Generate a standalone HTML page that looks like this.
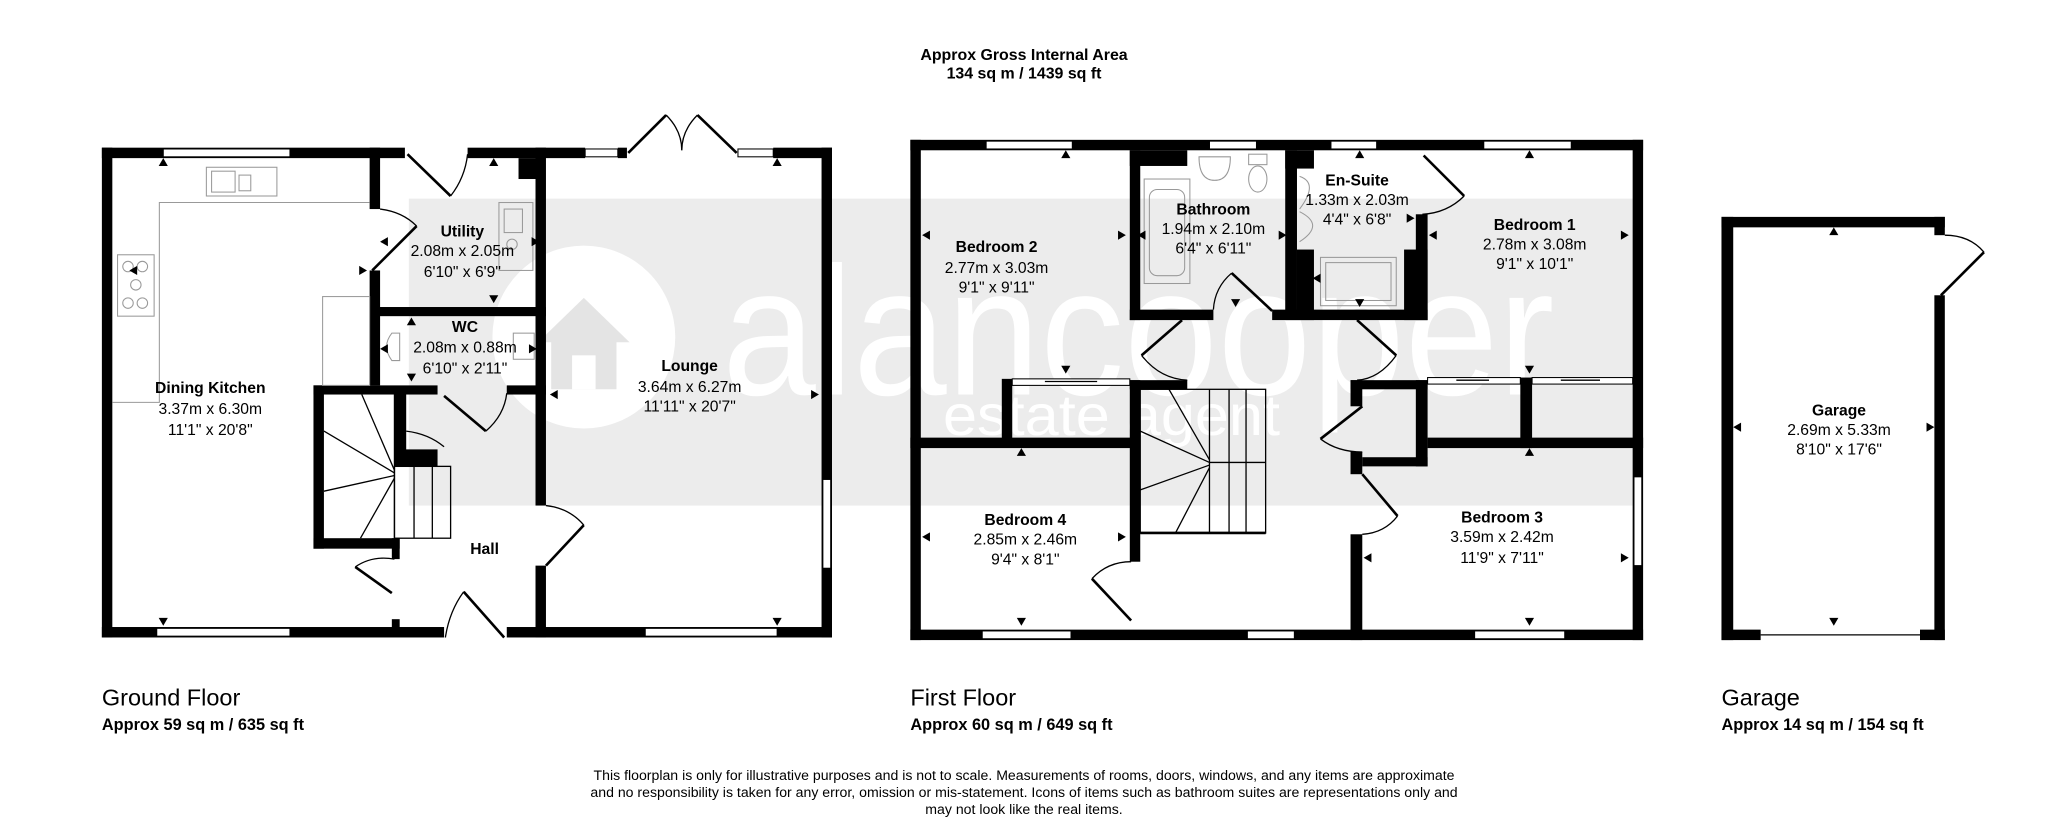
<!DOCTYPE html>
<html><head><meta charset="utf-8"><style>
html,body{margin:0;padding:0;background:#fff;}
svg{display:block;}
text{font-family:"Liberation Sans",Arial,sans-serif;fill:#000;}
.b{font-weight:bold;}
.w{fill:#000;}
.d{stroke:#000;stroke-width:2;fill:none;}
.a{stroke:#000;stroke-width:1;fill:none;}
.f{stroke:#999;stroke-width:0.8;fill:none;}
.win{fill:#fff;stroke:#000;stroke-width:0.8;}
</style></head><body>
<svg width="2048" height="840" viewBox="0 0 1568 643" xmlns="http://www.w3.org/2000/svg">
<rect x="0" y="0" width="1568" height="643" fill="#fff"/>
<!-- watermark band -->
<rect x="313" y="152" width="944" height="235" fill="#ececec"/>
<circle cx="447" cy="258" r="70" fill="#fff"/>
<path d="M412 262 L447 228 L482 262 L472 262 L472 298 L422 298 L422 262 Z" fill="#e4e4e4"/>
<rect x="438" y="272" width="18" height="26" fill="#fff"/>
<text x="553" y="302" font-size="140" textLength="637" lengthAdjust="spacingAndGlyphs" style="fill:#fff">alancooper</text>
<text x="722" y="333" font-size="44" textLength="258" lengthAdjust="spacingAndGlyphs" style="fill:#fff">estate agent</text>

<!-- header -->
<text x="784" y="46" font-size="12.2" class="b" text-anchor="middle">Approx Gross Internal Area</text>
<text x="784" y="60" font-size="12.2" class="b" text-anchor="middle">134 sq m / 1439 sq ft</text>

<!-- ================= GROUND FLOOR ================= -->
<g class="w">
<rect x="78" y="113" width="232" height="8"/>
<rect x="358" y="113" width="90" height="8"/>
<rect x="473" y="113" width="7" height="8"/>
<rect x="592" y="113" width="45" height="8"/>
<rect x="78" y="113" width="8" height="375"/>
<rect x="78" y="480" width="262" height="8"/>
<rect x="388" y="480" width="249" height="8"/>
<rect x="629" y="113" width="8" height="375"/>
<rect x="283" y="113" width="8" height="47"/>
<rect x="283" y="207" width="8" height="88"/>
<rect x="283" y="235" width="135" height="7"/>
<rect x="397" y="121" width="18" height="16"/>
<rect x="410" y="113" width="8" height="274"/>
<rect x="410" y="433" width="8" height="55"/>
<rect x="388" y="295" width="30" height="7"/>
<rect x="240" y="295" width="95" height="7"/>
<rect x="240" y="295" width="8" height="125"/>
<rect x="240" y="412" width="66" height="8"/>
<rect x="300" y="412" width="6" height="16"/>
<rect x="302" y="301" width="9" height="54"/>
<rect x="302" y="344" width="33" height="13"/>
<rect x="300" y="474" width="6" height="8"/>
</g>
<rect class="win" x="125" y="114" width="97" height="6"/>
<rect class="win" x="448" y="114" width="25" height="6"/>
<rect class="win" x="565" y="114" width="27" height="6"/>
<rect class="win" x="120" y="481" width="102" height="6"/>
<rect class="win" x="494" y="481" width="101" height="6"/>
<rect class="win" x="630" y="367" width="6" height="68"/>
<line class="d" x1="312" y1="118" x2="345" y2="150"/><path class="a" d="M345 150 Q356 136 358 118"/>
<line class="d" x1="481" y1="117" x2="510" y2="88"/><path class="a" d="M510 88 Q522 100 522 115"/>
<line class="d" x1="564" y1="117" x2="534" y2="88"/><path class="a" d="M534 88 Q522 100 522 115"/>
<line class="d" x1="386" y1="488" x2="355" y2="453"/><path class="a" d="M355 453 Q344 468 341 488"/>
<line class="d" x1="285" y1="207" x2="319" y2="173"/><path class="a" d="M319 173 Q308 162 291 160"/>
<line class="d" x1="418" y1="433" x2="447" y2="402"/><path class="a" d="M447 402 Q436 389 418 387"/>
<line class="d" x1="340" y1="303" x2="372" y2="330"/><path class="a" d="M372 330 Q386 318 388 301"/>
<line class="d" x1="300" y1="454" x2="272" y2="434"/><path class="a" d="M272 434 Q285 425 302 428"/>
<path class="a" d="M311 330 Q328 332 340 342"/>
<rect class="a" x="302" y="357" width="43" height="55"/>
<line class="a" x1="317" y1="357" x2="317" y2="412"/><line class="a" x1="331" y1="357" x2="331" y2="412"/>
<line class="a" x1="302" y1="302" x2="302" y2="412"/>
<line class="a" x1="302" y1="360" x2="277" y2="302"/>
<line class="a" x1="302" y1="362" x2="248" y2="330"/>
<line class="a" x1="302" y1="364" x2="248" y2="376"/>
<line class="a" x1="302" y1="366" x2="276" y2="412"/>
<polyline class="f" points="283,155 122,155 122,308 86,308"/>
<rect class="f" x="247" y="227" width="36" height="68"/>
<rect class="f" x="158" y="128" width="54" height="22"/>
<rect class="f" x="162" y="131" width="18" height="16"/><rect class="f" x="183" y="134" width="9" height="12"/>
<rect class="f" x="90" y="195" width="28" height="47"/>
<circle class="f" cx="98" cy="204" r="4"/><circle class="f" cx="109" cy="204" r="4"/><circle class="f" cx="104" cy="218" r="4"/><circle class="f" cx="98" cy="232" r="4"/><circle class="f" cx="109" cy="232" r="4"/>
<rect class="f" x="382" y="155" width="26" height="52"/>
<rect class="f" x="386" y="160" width="14" height="18"/><circle class="f" cx="392" cy="187" r="4"/>
<path class="f" d="M300 255 Q292 265 300 276 L306 276 L306 255 Z"/>
<rect class="f" x="393" y="255" width="16" height="20"/>
<g font-size="12" text-anchor="middle">
<text x="161" y="301" class="b">Dining Kitchen</text><text x="161" y="317">3.37m x 6.30m</text><text x="161" y="333">11'1" x 20'8"</text>
<text x="354" y="181" class="b">Utility</text><text x="354" y="196">2.08m x 2.05m</text><text x="354" y="212">6'10" x 6'9"</text>
<text x="356" y="254" class="b">WC</text><text x="356" y="270">2.08m x 0.88m</text><text x="356" y="286">6'10" x 2'11"</text>
<text x="528" y="284" class="b">Lounge</text><text x="528" y="300">3.64m x 6.27m</text><text x="528" y="315">11'11" x 20'7"</text>
<text x="371" y="424" class="b">Hall</text>
</g>

<!-- ================= FIRST FLOOR ================= -->
<g class="w">
<rect x="697" y="107" width="561" height="8"/>
<rect x="697" y="107" width="8" height="383"/>
<rect x="697" y="482" width="561" height="8"/>
<rect x="1250" y="107" width="8" height="383"/>
<rect x="865" y="115" width="8" height="130"/>
<rect x="865" y="115" width="44" height="12"/>
<rect x="865" y="237" width="64" height="8"/>
<rect x="974" y="237" width="119" height="8"/>
<rect x="984" y="115" width="9" height="130"/>
<rect x="984" y="115" width="22" height="14"/>
<rect x="993" y="191" width="13" height="54"/>
<rect x="1084" y="164" width="9" height="81"/>
<rect x="1075" y="191" width="18" height="54"/>
<rect x="767" y="290" width="8" height="52"/>
<rect x="697" y="335" width="176" height="8"/>
<rect x="865" y="291" width="44" height="7"/>
<rect x="865" y="291" width="8" height="139"/>
<rect x="1034" y="291" width="59" height="7"/>
<rect x="1034" y="291" width="9" height="20"/>
<rect x="1034" y="346" width="9" height="17"/>
<rect x="1034" y="409" width="9" height="81"/>
<rect x="1043" y="350" width="50" height="7"/>
<rect x="1084" y="291" width="9" height="66"/>
<rect x="1093" y="335" width="165" height="8"/>
<rect x="1164" y="289" width="9" height="54"/>
</g>
<rect class="win" x="755" y="108" width="66" height="6"/>
<rect class="win" x="926" y="108" width="36" height="6"/>
<rect class="win" x="1019" y="108" width="35" height="6"/>
<rect class="win" x="1136" y="108" width="67" height="6"/>
<rect class="win" x="752" y="483" width="68" height="6"/>
<rect class="win" x="955" y="483" width="36" height="6"/>
<rect class="win" x="1129" y="483" width="69" height="6"/>
<rect class="win" x="1251" y="365" width="6" height="68"/>
<rect class="win" x="775" y="290" width="90" height="5"/>
<rect class="win" x="1093" y="289" width="71" height="5"/>
<rect class="win" x="1173" y="289" width="77" height="5"/>
<line class="a" x1="800" y1="292" x2="840" y2="292"/><line class="a" x1="1115" y1="291" x2="1140" y2="291"/><line class="a" x1="1195" y1="291" x2="1225" y2="291"/>
<line class="d" x1="974" y1="238" x2="943" y2="209"/><path class="a" d="M943 209 Q930 220 929 237"/>
<line class="d" x1="1090" y1="119" x2="1121" y2="150"/><path class="a" d="M1121 150 Q1108 163 1089 164"/>
<line class="d" x1="905" y1="245" x2="874" y2="272"/><path class="a" d="M874 272 Q888 290 909 291"/>
<line class="d" x1="1039" y1="245" x2="1069" y2="272"/><path class="a" d="M1069 272 Q1056 290 1039 291"/>
<line class="d" x1="866" y1="475" x2="836" y2="443"/><path class="a" d="M836 443 Q848 430 866 430"/>
<line class="d" x1="1043" y1="311" x2="1011" y2="336"/><path class="a" d="M1011 336 Q1024 346 1043 346"/>
<line class="d" x1="1043" y1="363" x2="1070" y2="395"/><path class="a" d="M1070 395 Q1060 408 1043 409"/>
<rect class="a" x="873" y="298" width="96" height="110"/>
<line class="d" x1="873" y1="408" x2="969" y2="408"/>
<line class="a" x1="926" y1="354" x2="969" y2="354"/>
<line class="a" x1="926" y1="298" x2="926" y2="408"/>
<line class="a" x1="941" y1="298" x2="941" y2="408"/><line class="a" x1="954" y1="298" x2="954" y2="408"/>
<line class="a" x1="926" y1="352" x2="895" y2="298"/>
<line class="a" x1="926" y1="354" x2="873" y2="330"/>
<line class="a" x1="926" y1="356" x2="873" y2="375"/>
<line class="a" x1="926" y1="358" x2="900" y2="408"/>
<rect class="f" x="876" y="137" width="35" height="80"/><rect class="f" x="880" y="145" width="27" height="66" rx="6"/>
<path class="f" d="M918 120 Q918 138 930 138 Q942 138 942 120 Z"/>
<rect class="f" x="956" y="118" width="14" height="8"/><ellipse class="f" cx="963" cy="137" rx="7" ry="10"/>
<path class="f" d="M995 135 Q1010 140 995 160"/><path class="f" d="M995 162 Q1015 172 995 185"/>
<rect class="f" x="1011" y="197" width="58" height="37"/><rect class="f" x="1015" y="201" width="50" height="29"/>
<g font-size="12" text-anchor="middle">
<text x="763" y="193" class="b">Bedroom 2</text><text x="763" y="209">2.77m x 3.03m</text><text x="763" y="224">9'1" x 9'11"</text>
<text x="929" y="164" class="b">Bathroom</text><text x="929" y="179">1.94m x 2.10m</text><text x="929" y="194">6'4" x 6'11"</text>
<text x="1039" y="142" class="b">En-Suite</text><text x="1039" y="157">1.33m x 2.03m</text><text x="1039" y="172">4'4" x 6'8"</text>
<text x="1175" y="176" class="b">Bedroom 1</text><text x="1175" y="191">2.78m x 3.08m</text><text x="1175" y="206">9'1" x 10'1"</text>
<text x="785" y="402" class="b">Bedroom 4</text><text x="785" y="417">2.85m x 2.46m</text><text x="785" y="432">9'4" x 8'1"</text>
<text x="1150" y="400" class="b">Bedroom 3</text><text x="1150" y="415">3.59m x 2.42m</text><text x="1150" y="431">11'9" x 7'11"</text>
</g>

<!-- ================= GARAGE ================= -->
<g class="w">
<rect x="1318" y="166" width="171" height="8"/>
<rect x="1318" y="166" width="9" height="324"/>
<rect x="1481" y="166" width="8" height="14"/>
<rect x="1481" y="226" width="8" height="264"/>
<rect x="1318" y="482" width="30" height="8"/>
<rect x="1470" y="482" width="19" height="8"/>
</g>
<line class="a" x1="1348" y1="486" x2="1470" y2="486"/>
<line class="d" x1="1486" y1="226" x2="1519" y2="193"/><path class="a" d="M1519 193 Q1508 180 1489 180"/>
<g font-size="12" text-anchor="middle">
<text x="1408" y="318" class="b">Garage</text><text x="1408" y="333">2.69m x 5.33m</text><text x="1408" y="348">8'10" x 17'6"</text>
</g>

<g fill="#000">
<path d="M121.5 127 h7 l-3.5 -6 z"/><path d="M374.5 127 h7 l-3.5 -6 z"/><path d="M591.5 127 h7 l-3.5 -6 z"/><path d="M311.5 249 h7 l-3.5 -6 z"/>
<path d="M812.5 121 h7 l-3.5 -6 z"/><path d="M778.5 349 h7 l-3.5 -6 z"/><path d="M1037.5 121 h7 l-3.5 -6 z"/><path d="M1167.5 121 h7 l-3.5 -6 z"/><path d="M1167.5 349 h7 l-3.5 -6 z"/><path d="M1400.5 180 h7 l-3.5 -6 z"/>
<path d="M121.5 473 h7 l-3.5 6 z"/><path d="M374.5 226 h7 l-3.5 6 z"/><path d="M591.5 473 h7 l-3.5 6 z"/><path d="M311.5 286 h7 l-3.5 6 z"/>
<path d="M812.5 280 h7 l-3.5 6 z"/><path d="M778.5 473 h7 l-3.5 6 z"/><path d="M942.5 229 h7 l-3.5 6 z"/><path d="M1037.5 229 h7 l-3.5 6 z"/><path d="M1167.5 280 h7 l-3.5 6 z"/><path d="M1167.5 473 h7 l-3.5 6 z"/><path d="M1400.5 473 h7 l-3.5 6 z"/>
<path d="M105 203.5 v7 l-6 -3.5 z"/><path d="M297 181.5 v7 l-6 -3.5 z"/><path d="M297 263.5 v7 l-6 -3.5 z"/><path d="M427 298.5 v7 l-6 -3.5 z"/>
<path d="M712 176.5 v7 l-6 -3.5 z"/><path d="M712 407.5 v7 l-6 -3.5 z"/><path d="M877 176.5 v7 l-6 -3.5 z"/><path d="M1011 209.5 v7 l-6 -3.5 z"/><path d="M1100 176.5 v7 l-6 -3.5 z"/><path d="M1050 423.5 v7 l-6 -3.5 z"/><path d="M1333 323.5 v7 l-6 -3.5 z"/>
<path d="M275 203.5 v7 l6 -3.5 z"/><path d="M407 181.5 v7 l6 -3.5 z"/><path d="M405 263.5 v7 l6 -3.5 z"/><path d="M621 298.5 v7 l6 -3.5 z"/>
<path d="M856 176.5 v7 l6 -3.5 z"/><path d="M856 407.5 v7 l6 -3.5 z"/><path d="M979 176.5 v7 l6 -3.5 z"/><path d="M1077 163.5 v7 l6 -3.5 z"/><path d="M1241 176.5 v7 l6 -3.5 z"/><path d="M1241 423.5 v7 l6 -3.5 z"/><path d="M1475 323.5 v7 l6 -3.5 z"/>
</g>

<text x="78" y="540" font-size="18">Ground Floor</text>
<text x="78" y="559" font-size="12.5" class="b">Approx 59 sq m / 635 sq ft</text>
<text x="697" y="540" font-size="18">First Floor</text>
<text x="697" y="559" font-size="12.5" class="b">Approx 60 sq m / 649 sq ft</text>
<text x="1318" y="540" font-size="18">Garage</text>
<text x="1318" y="559" font-size="12.5" class="b">Approx 14 sq m / 154 sq ft</text>

<g font-size="10.8" text-anchor="middle">
<text x="784" y="597">This floorplan is only for illustrative purposes and is not to scale. Measurements of rooms, doors, windows, and any items are approximate</text>
<text x="784" y="610">and no responsibility is taken for any error, omission or mis-statement. Icons of items such as bathroom suites are representations only and</text>
<text x="784" y="623">may not look like the real items.</text>
</g>
</svg>
</body></html>
